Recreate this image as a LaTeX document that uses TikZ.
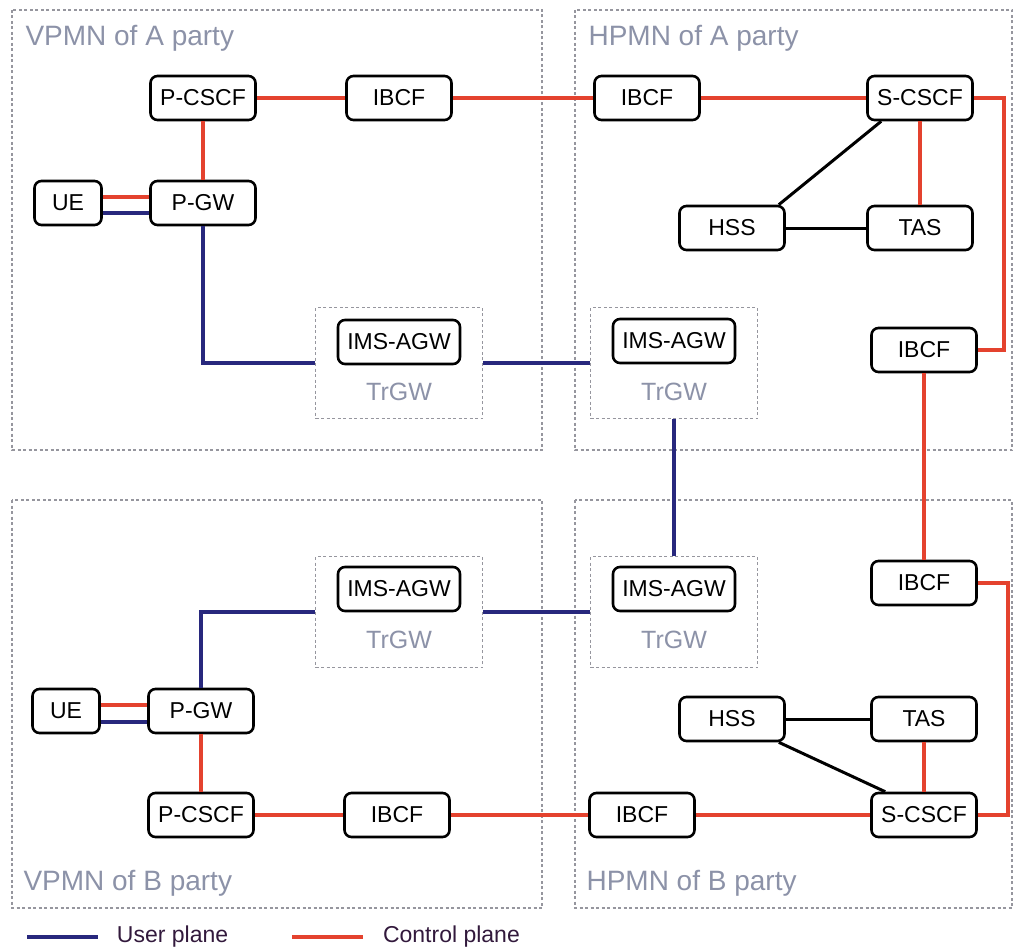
\documentclass[tikz,border=0pt]{standalone}
\usepackage{fontspec}
\setmainfont{Liberation Sans}
\definecolor{userblue}{RGB}{40,40,125}
\definecolor{ctrlred}{RGB}{228,66,46}
\definecolor{netgray}{RGB}{150,150,158}
\definecolor{labgray}{RGB}{140,146,168}
\definecolor{legtext}{RGB}{50,25,60}
\begin{document}
\begin{tikzpicture}[%
  x = 1pt, y = -1pt,
  box/.style = {draw, fill = white, rounded corners = 7pt, line width = 2.6pt, inner sep = 0pt,
                minimum width = 105pt, minimum height = 44pt, font = \fontsize{23}{26}\selectfont},
  gwbox/.style = {draw = netgray, dash pattern = on 3pt off 2.5pt, line width = 1.8pt,
                  inner sep = 0pt, minimum width = 167pt, minimum height = 111pt},
  area/.style = {draw = netgray, dash pattern = on 3pt off 2.5pt, line width = 1.8pt},
  lab/.style = {text = labgray, anchor = west, font = \fontsize{28}{30}\selectfont},
  trlab/.style = {text = labgray, font = \fontsize{25}{28}\selectfont},
  user/.style = {draw = userblue, line width = 3.2pt},
  ctrl/.style = {draw = ctrlred, line width = 3.4pt},
  sig/.style = {draw, line width = 3pt}]
  \useasboundingbox (0, 0) rectangle (1014, 952);

  % network areas
  \draw[area] (12, 10) rectangle (542, 450);
  \draw[area] (575, 10) rectangle (1012, 450);
  \draw[area] (12, 500) rectangle (542, 908);
  \draw[area] (575, 500) rectangle (1012, 908);
  \node[lab] (labVA) at (22, 38) {VPMN of A party};
  \node[lab] (labHA) at (585, 38) {HPMN of A party};
  \node[lab] (labVB) at (20, 883) {VPMN of B party};
  \node[lab] (labHB) at (583, 883) {HPMN of B party};

  % VPMN of A party
  \node[box] (pcscfVA) at (203, 98) {P-CSCF};
  \node[box] (ibcfVA) at (399, 98) {IBCF};
  \node[box, minimum width = 67pt] (ueA) at (68, 203) {UE};
  \node[box] (pgwA) at (203, 203) {P-GW};
  \node[gwbox] (trgwVA) at (399, 363) {};
  \node[box, minimum width = 122pt] (agwVA) at (399, 342) {IMS-AGW};
  \node[trlab] (trVA) at (399, 392) {TrGW};

  % HPMN of A party
  \node[box] (ibcfHA) at (647, 98) {IBCF};
  \node[box] (scscfA) at (920, 98) {S-CSCF};
  \node[box] (hssA) at (732, 228) {HSS};
  \node[box] (tasA) at (920, 228) {TAS};
  \node[box] (ibcfHA2) at (924, 350) {IBCF};
  \node[gwbox] (trgwHA) at (674, 363) {};
  \node[box, minimum width = 122pt] (agwHA) at (674, 341) {IMS-AGW};
  \node[trlab] (trHA) at (674, 392) {TrGW};

  % VPMN of B party
  \node[gwbox] (trgwVB) at (399, 612) {};
  \node[box, minimum width = 122pt] (agwVB) at (399, 589) {IMS-AGW};
  \node[trlab] (trVB) at (399, 640) {TrGW};
  \node[box, minimum width = 67pt] (ueB) at (66, 711) {UE};
  \node[box] (pgwB) at (201, 711) {P-GW};
  \node[box] (pcscfVB) at (201, 815) {P-CSCF};
  \node[box] (ibcfVB) at (397, 815) {IBCF};

  % HPMN of B party
  \node[box] (ibcfHB2) at (924, 583) {IBCF};
  \node[gwbox] (trgwHB) at (674, 612) {};
  \node[box, minimum width = 122pt] (agwHB) at (674, 589) {IMS-AGW};
  \node[trlab] (trHB) at (674, 640) {TrGW};
  \node[box] (hssB) at (732, 719) {HSS};
  \node[box] (tasB) at (924, 719) {TAS};
  \node[box] (ibcfHB) at (642, 815) {IBCF};
  \node[box] (scscfB) at (924, 815) {S-CSCF};

  % control plane
  \draw[ctrl] (pcscfVA) -- (ibcfVA);
  \draw[ctrl] (ibcfVA) -- (ibcfHA);
  \draw[ctrl] (ibcfHA) -- (scscfA);
  \draw[ctrl] (pcscfVA) -- (pgwA);
  \draw[ctrl] (scscfA) -- (tasA);
  \draw[ctrl] (scscfA.east) -- ++(30, 0) |- (ibcfHA2.east);
  \draw[ctrl] (ibcfHA2) -- (ibcfHB2);
  \draw[ctrl] (ibcfHB2.east) -- ++(30, 0) |- (scscfB.east);
  \draw[ctrl] (scscfB) -- (tasB);
  \draw[ctrl] (ibcfHB) -- (scscfB);
  \draw[ctrl] (ibcfVB) -- (ibcfHB);
  \draw[ctrl] (pcscfVB) -- (ibcfVB);
  \draw[ctrl] (pgwB) -- (pcscfVB);
  \draw[ctrl] ([yshift = 6pt]ueA.east) -- ([yshift = 6pt]pgwA.west);
  \draw[ctrl] ([yshift = 6pt]ueB.east) -- ([yshift = 6pt]pgwB.west);

  % user plane
  \draw[user] ([yshift = -10pt]ueA.east) -- ([yshift = -10pt]pgwA.west);
  \draw[user] ([yshift = -11pt]ueB.east) -- ([yshift = -11pt]pgwB.west);
  \draw[user] (pgwA) |- (trgwVA);
  \draw[user] (trgwVA) -- (trgwHA);
  \draw[user] (trgwHA) -- (trgwHB);
  \draw[user] (pgwB) |- (trgwVB);
  \draw[user] (trgwVB) -- (trgwHB);

  % HSS links
  \draw[sig] (hssA) -- (tasA);
  \draw[sig] ([xshift = -7pt]hssA.north east) -- ([xshift = 15pt]scscfA.south west);
  \draw[sig] (hssB) -- (tasB);
  \draw[sig] ([xshift = -7pt]hssB.south east) -- ([xshift = 15pt]scscfB.north west);

  % legend
  \coordinate (legU) at (27, 937);
  \coordinate (legC) at (292, 937);
  \draw[user] (legU) -- ++(71, 0)
    node[anchor = west, xshift = 14pt, text = legtext, font = \fontsize{23}{26}\selectfont] (txtU) {User plane};
  \draw[ctrl] (legC) -- ++(71, 0)
    node[anchor = west, xshift = 15pt, text = legtext, font = \fontsize{23}{26}\selectfont] (txtC) {Control plane};
\end{tikzpicture}
\end{document}
